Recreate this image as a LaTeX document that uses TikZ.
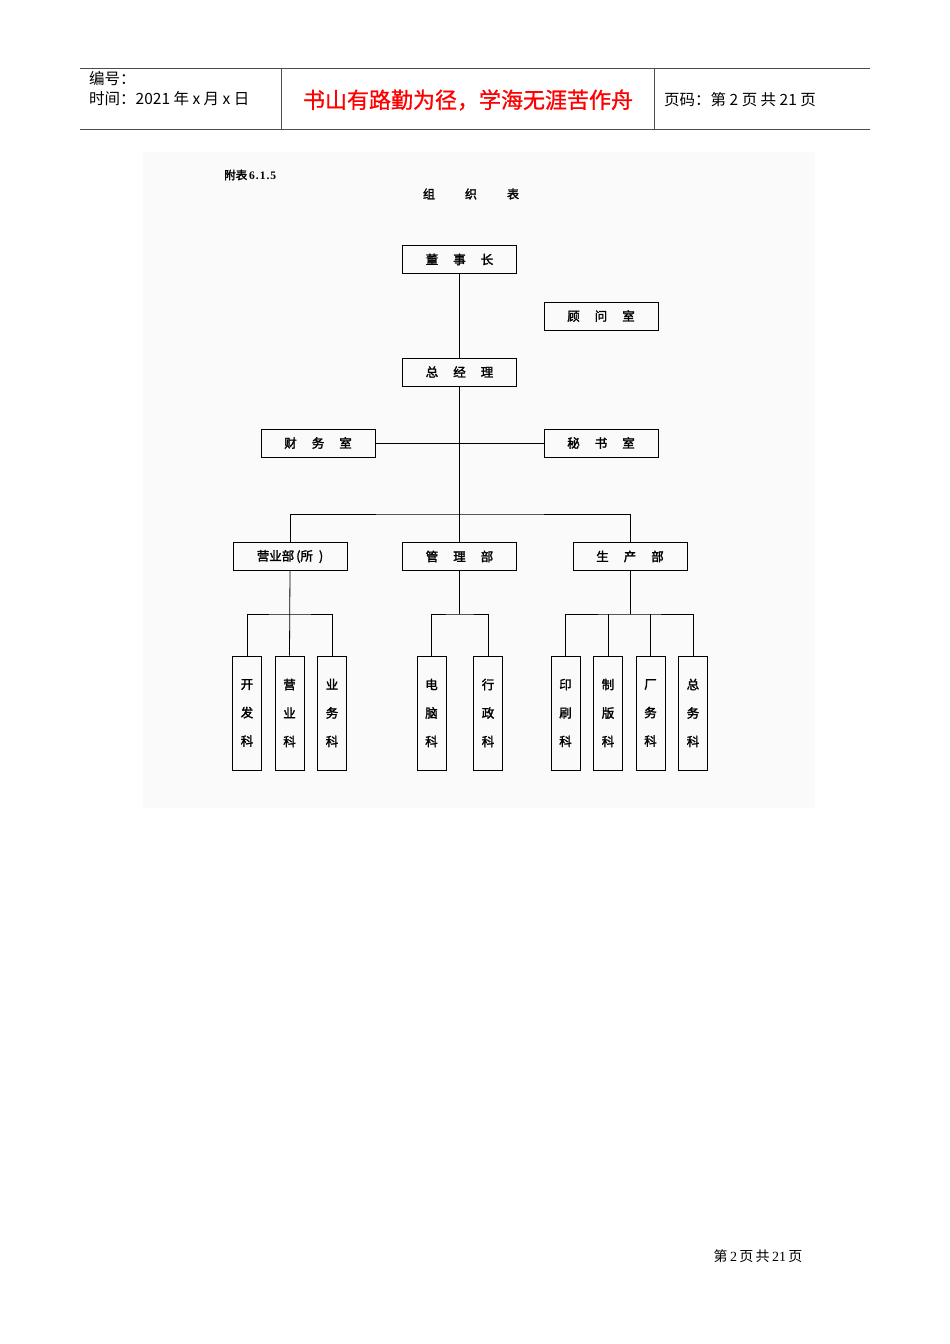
\documentclass[tikz,border=0pt]{standalone}
\usepackage{fontspec}
\setmainfont{Liberation Serif}
\newfontfamily\cjk{Noto Sans CJK SC}
\newfontfamily\cjkb{Noto Sans CJK SC}[FakeBold=2]
\newfontfamily\cjkr{Noto Sans CJK SC}[FakeBold=1]
\begin{document}
\begin{tikzpicture}[x=1pt,y=-1pt,
  hbox/.style={draw,line width=0.9pt,minimum width=114pt,minimum height=28pt,inner sep=0pt,font=\cjkb\fontsize{12.5}{14}\selectfont},
  vbox/.style={draw,line width=0.9pt,minimum width=29pt,minimum height=114pt,inner sep=0pt,align=center,font=\cjkb\fontsize{12.5}{28.5}\selectfont},
  conn/.style={line width=0.8pt},
  hdrline/.style={line width=0.9pt,draw=black!70},
  hdr/.style={font=\cjk\fontsize{15.5}{18}\selectfont,inner sep=0pt,anchor=west}
]
\useasboundingbox (0,0) rectangle (950,1344);
\fill[white] (0,0) rectangle (950,1344);
\fill[black!2] (143,152) rectangle (815,808);

% header
\draw[hdrline] (80,68) -- (870,68);
\draw[hdrline] (80,129) -- (870,129);
\draw[hdrline] (281,68) -- (281,129);
\draw[hdrline] (654,68) -- (654,129);
\node[hdr] (h1) at (89,79) {编号：};
\node[hdr] (h2) at (89,99) {时间：2021 年 x 月 x 日};
\node[font=\cjkr\fontsize{22}{26}\selectfont,text=red,inner sep=0pt] (motto) at (468,100) {书山有路勤为径，学海无涯苦作舟};
\node[hdr] (h3) at (664,100) {页码：第 2 页 共 21 页};

% titles
\node[font=\cjkb\fontsize{11.5}{13}\selectfont,inner sep=0pt,anchor=west] (tab) at (224,175) {附表{\rmfamily\bfseries\hspace{2pt}6\hspace{1pt}.\hspace{1pt}1\hspace{1pt}.\hspace{1pt}5}};
\node[font=\cjkb\fontsize{12}{14}\selectfont,inner sep=0pt] (title) at (471,194) {组\hspace{30pt}织\hspace{30pt}表};

% boxes
\node[hbox] (chair) at (459.5,259.5) {董\hspace{15pt}事\hspace{15pt}长};
\node[hbox] (adv) at (601,316) {顾\hspace{15pt}问\hspace{15pt}室};
\node[hbox] (gm) at (459.5,372) {总\hspace{15pt}经\hspace{15pt}理};
\node[hbox] (fin) at (318,443) {财\hspace{15pt}务\hspace{15pt}室};
\node[hbox] (sec) at (601,443) {秘\hspace{15pt}书\hspace{15pt}室};
\node[hbox] (sales) at (290,556.5) {营业部\hspace{2pt}(所\hspace{6pt})};
\node[hbox] (mgmt) at (459.5,556.5) {管\hspace{15pt}理\hspace{15pt}部};
\node[hbox] (prod) at (630,556.5) {生\hspace{15pt}产\hspace{15pt}部};

\node[vbox] (kf) at (247,713) {开\\发\\科};
\node[vbox] (yy) at (289.5,713) {营\\业\\科};
\node[vbox] (yw) at (332,713) {业\\务\\科};
\node[vbox] (dn) at (431.5,713) {电\\脑\\科};
\node[vbox] (xz) at (488,713) {行\\政\\科};
\node[vbox] (ys) at (565.5,713) {印\\刷\\科};
\node[vbox] (zb) at (608,713) {制\\版\\科};
\node[vbox] (cw) at (650.5,713) {厂\\务\\科};
\node[vbox] (zw) at (693,713) {总\\务\\科};

% connectors
\coordinate (busA) at (459.5,514);
\coordinate (sb) at (290,614);
\coordinate (mb) at (459.5,614);
\coordinate (pb) at (630,614);
\draw[conn] (chair.south) -- (gm.north);
\draw[conn] (gm.south) -- (mgmt.north);
\draw[conn] (fin.east) -- (sec.west);
\draw[conn] (sales.north) |- (busA) -| (prod.north);
\draw[conn] (sales.south) -- (yy.north);
\draw[conn] (kf.north) |- (sb) -| (yw.north);
\draw[conn] (mgmt.south) -- (mb);
\draw[conn] (dn.north) |- (mb) -| (xz.north);
\draw[conn] (prod.south) -- (pb);
\draw[conn] (ys.north) |- (pb) -| (zw.north);
\draw[conn] (zb.north) -- (zb.north |- pb);
\draw[conn] (cw.north) -- (cw.north |- pb);

% footer
\node[font=\fontsize{14}{16}\selectfont,inner sep=0pt] (foot) at (758,1256) {{\cjk 第}\,2\,{\cjk 页}\,{\cjk 共}\,21\,{\cjk 页}};
\end{tikzpicture}
\end{document}
